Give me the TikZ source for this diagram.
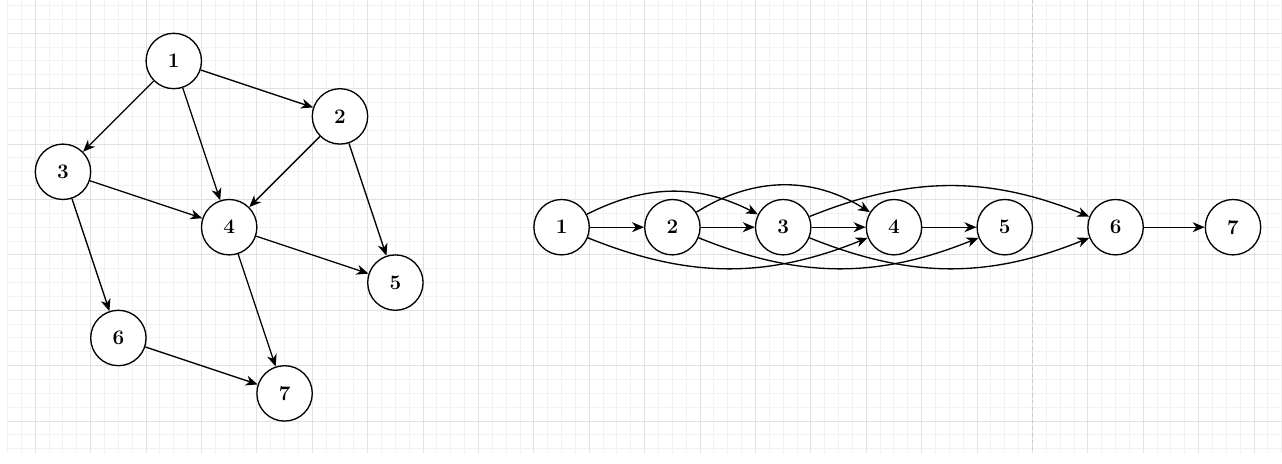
\documentclass[tikz,border=0pt]{standalone}
\usepackage{fontspec}
\setmainfont{Latin Modern Roman}
\usetikzlibrary{arrows.meta}
\definecolor{gridminor}{RGB}{242,242,242}
\definecolor{gridmajor}{RGB}{225,225,225}
\definecolor{pagebreak}{RGB}{200,200,200}
\tikzset{
  vtx/.style={circle, draw, line width=1pt, fill=white, minimum size=41.55pt, inner sep=0pt,
    font=\fontsize{15.5}{18}\selectfont\bfseries},
  edge/.style={draw, line width=1pt, -{Stealth[length=9pt,width=7.5pt,inset=2.8pt]}},
  minorline/.style={draw=gridminor, line width=0.75pt},
  majorline/.style={draw=gridmajor, line width=0.75pt}
}
\begin{document}
\begin{tikzpicture}[x=41.55pt, y=41.55pt]
\useasboundingbox (-0.637,0.601) rectangle (22.504,-7.774);
% grid
\foreach \i in {-2,...,90} {
  \draw[minorline] (\i/4,0.601) -- (\i/4,-7.57);
}
\foreach \j in {-2,...,30} {
  \draw[minorline] (-0.5,-\j/4) -- (22.504,-\j/4);
}
\foreach \i in {0,...,22} {
  \draw[majorline] (\i,0.601) -- (\i,-7.57);
}
\foreach \j in {0,...,7} {
  \draw[majorline] (-0.5,-\j) -- (22.504,-\j);
}
\draw[pagebreak, line width=0.75pt, dash pattern=on 2.5pt off 2.5pt] (18,0.601) -- (18,-7.57);

% left graph
\node[vtx] (a1) at (2.5,-0.5) {1};
\node[vtx] (a2) at (5.5,-1.5) {2};
\node[vtx] (a3) at (0.5,-2.5) {3};
\node[vtx] (a4) at (3.5,-3.5) {4};
\node[vtx] (a5) at (6.5,-4.5) {5};
\node[vtx] (a6) at (1.5,-5.5) {6};
\node[vtx] (a7) at (4.5,-6.5) {7};
\draw[edge] (a1) -- (a2);
\draw[edge] (a1) -- (a3);
\draw[edge] (a1) -- (a4);
\draw[edge] (a2) -- (a4);
\draw[edge] (a2) -- (a5);
\draw[edge] (a3) -- (a4);
\draw[edge] (a3) -- (a6);
\draw[edge] (a4) -- (a5);
\draw[edge] (a4) -- (a7);
\draw[edge] (a6) -- (a7);

% right graph
\node[vtx] (b1) at (9.5,-3.5) {1};
\node[vtx] (b2) at (11.5,-3.5) {2};
\node[vtx] (b3) at (13.5,-3.5) {3};
\node[vtx] (b4) at (15.5,-3.5) {4};
\node[vtx] (b5) at (17.5,-3.5) {5};
\node[vtx] (b6) at (19.5,-3.5) {6};
\node[vtx] (b7) at (21.62,-3.5) {7};
\draw[edge] (b1) -- (b2);
\draw[edge] (b2) -- (b3);
\draw[edge] (b3) -- (b4);
\draw[edge] (b4) -- (b5);
\draw[edge] (b6) -- (b7);
\draw[edge] (b1) to[out=27, in=153] (b3);
\draw[edge] (b2) to[out=32, in=148] (b4);
\draw[edge] (b3) to[out=22, in=158] (b6);
\draw[edge] (b1) to[out=-22, in=-158] (b4);
\draw[edge] (b2) to[out=-22, in=-158] (b5);
\draw[edge] (b3) to[out=-22, in=-158] (b6);
\end{tikzpicture}
\end{document}
